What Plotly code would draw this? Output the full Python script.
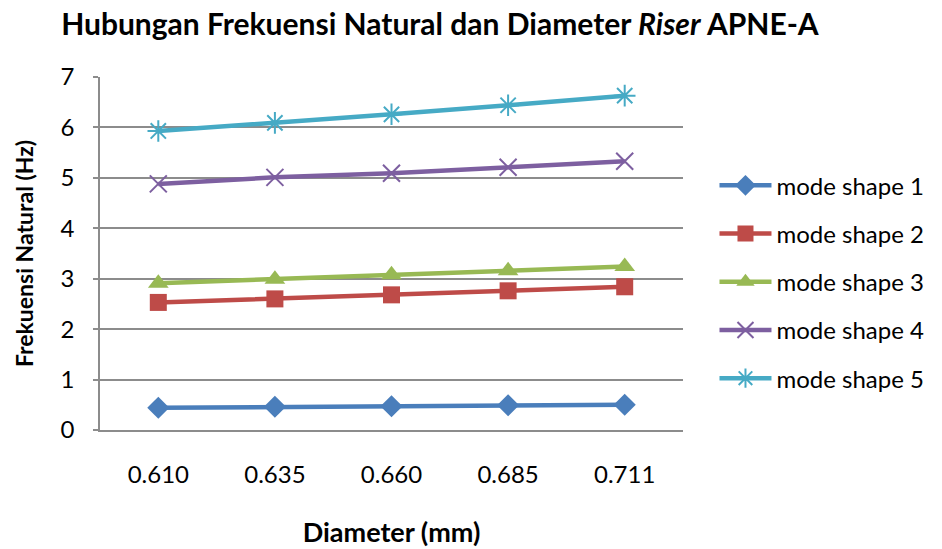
import plotly.graph_objects as go

diameters = ["0.610", "0.635", "0.660", "0.685", "0.711"]
mode1 = [0.44, 0.46, 0.47, 0.49, 0.50]
mode2 = [2.53, 2.60, 2.68, 2.76, 2.84]
mode3 = [2.91, 2.99, 3.08, 3.16, 3.24]
mode4 = [4.88, 5.01, 5.09, 5.21, 5.33]
mode5 = [5.93, 6.09, 6.26, 6.44, 6.63]
names = ["mode shape 1", "mode shape 2", "mode shape 3", "mode shape 4", "mode shape 5"]
series = [mode1, mode2, mode3, mode4, mode5]
colors = ["#4A7EBB", "#BE4B48", "#98B954", "#7D5FA0", "#46AAC5"]
symbols = ["diamond", "square", "triangle-up", "x-thin-open", "asterisk-open"]
sizes = [17, 17, 18, 17, 18]

FONT = "Lato"

fig = go.Figure()
for i, (nm, ys) in enumerate(zip(names, series)):
    fig.add_trace(go.Scatter(
        x=diameters, y=ys, name=nm, mode="lines+markers",
        legendgroup=f"g{i}",
        line=dict(color=colors[i], width=4.5),
        marker=dict(symbol=symbols[i], size=sizes[i], color=colors[i],
                    line=dict(color=colors[i], width=2 if i >= 3 else 0)),
    ))

fig.update_layout(
    width=942, height=549,
    margin=dict(l=100, r=256, t=77, b=119),
    paper_bgcolor="white", plot_bgcolor="white",
    font=dict(family=FONT, size=23, color="black"),
    title=dict(text="<b>Hubungan Frekuensi Natural dan Diameter <i>Riser</i> APNE-A</b>",
               x=0.467, xanchor="center", y=0.955, yanchor="middle",
               font=dict(family=FONT, size=30, color="black")),
    legend=dict(x=1.054, xanchor="left", y=0.42, yanchor="middle",
                font=dict(family=FONT, size=24, color="black"),
                tracegroupgap=14, itemwidth=52, bgcolor="rgba(0,0,0,0)",
                borderwidth=0),
    showlegend=True,
)
fig.update_xaxes(
    type="category", showgrid=False, showline=True, linecolor="#8C8C8C", linewidth=1.5,
    ticks="", ticklabelstandoff=22, tickfont=dict(family=FONT, size=24),
    title=dict(text="<b>Diameter (mm)</b>", font=dict(family=FONT, size=27), standoff=37),
    range=[-0.5, 4.5], zeroline=False, automargin=False,
)
fig.update_yaxes(
    range=[0, 7], dtick=1, showgrid=True, gridcolor="#8C8C8C", gridwidth=1.5,
    showline=True, linecolor="#8C8C8C", linewidth=1.5, zeroline=False,
    ticks="outside", ticklen=5, tickcolor="#8C8C8C", tickwidth=1.5,
    ticklabelstandoff=14, tickfont=dict(family=FONT, size=24),
    title=dict(text="<b>Frekuensi Natural (Hz)</b>", font=dict(family=FONT, size=23), standoff=20),
    automargin=False,
)

fig.write_html("out.html")
